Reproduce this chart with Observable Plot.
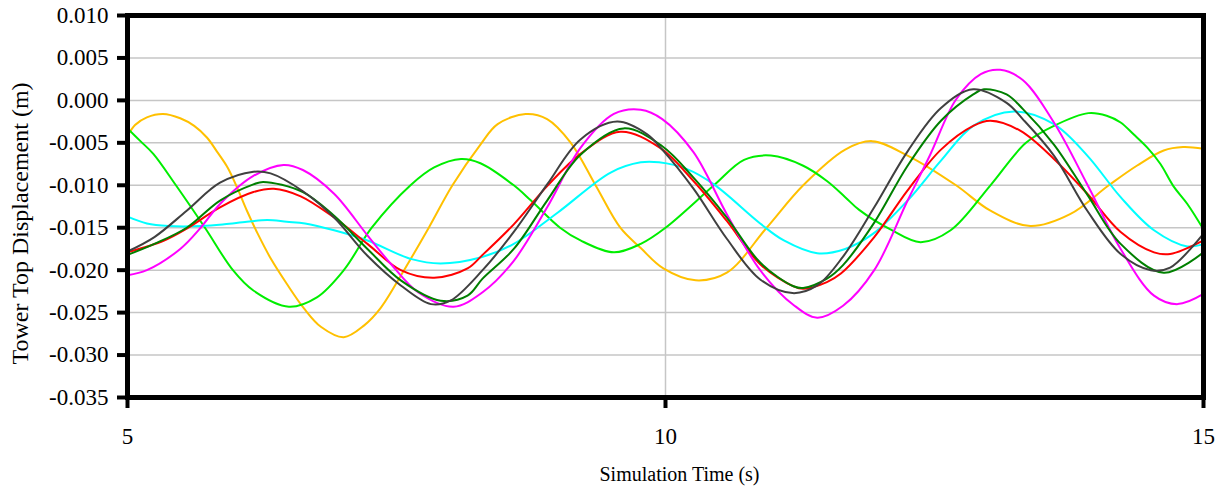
<!DOCTYPE html>
<html>
<head>
<meta charset="utf-8">
<script src="https://cdn.jsdelivr.net/npm/d3@7"></script>
<script src="https://cdn.jsdelivr.net/npm/@observablehq/plot@0.6"></script>
<style>
  html, body { margin: 0; padding: 0; background: #ffffff; }
  #chart { width: 1229px; height: 489px; }
</style>
</head>
<body>
<div id="chart"></div>
<script>
// ---- Data (time in s, displacement in m) ----
const xTicks = [5, 10, 15];
const yTicks = [-0.035, -0.030, -0.025, -0.020, -0.015, -0.010, -0.005, 0.000, 0.005, 0.010];

const orangeSeries = [[5.0,-0.0042],[5.07,-0.0029],[5.18,-0.0020],[5.33,-0.0016],[5.49,-0.0021],[5.62,-0.0030],[5.74,-0.0044],[5.83,-0.0060],[5.93,-0.0079],[6.02,-0.0103],[6.11,-0.0130],[6.21,-0.0157],[6.33,-0.0186],[6.48,-0.0216],[6.64,-0.0245],[6.80,-0.0267],[7.01,-0.0279],[7.20,-0.0265],[7.35,-0.0245],[7.57,-0.0200],[7.80,-0.0150],[8.02,-0.0100],[8.28,-0.0052],[8.44,-0.0028],[8.70,-0.0016],[8.90,-0.0022],[9.12,-0.0050],[9.35,-0.0100],[9.58,-0.0150],[9.77,-0.0174],[9.98,-0.0198],[10.28,-0.0212],[10.57,-0.0203],[10.94,-0.0150],[11.28,-0.0100],[11.67,-0.0058],[11.92,-0.0048],[12.25,-0.0065],[12.70,-0.0100],[13.02,-0.0130],[13.39,-0.0148],[13.76,-0.0134],[14.12,-0.0100],[14.38,-0.0077],[14.63,-0.0059],[14.81,-0.0055],[15.0,-0.0057]];

const brightGreenSeries = [[5.0,-0.0033],[5.12,-0.0048],[5.24,-0.0063],[5.45,-0.0100],[5.72,-0.0150],[5.98,-0.0200],[6.17,-0.0224],[6.50,-0.0243],[6.76,-0.0232],[7.01,-0.0200],[7.27,-0.0150],[7.63,-0.0100],[7.85,-0.0079],[8.10,-0.0069],[8.28,-0.0074],[8.59,-0.0100],[8.75,-0.0118],[9.02,-0.0150],[9.21,-0.0165],[9.52,-0.0179],[9.77,-0.0169],[10.0,-0.0150],[10.45,-0.0100],[10.73,-0.0070],[10.98,-0.0065],[11.28,-0.0077],[11.50,-0.0095],[11.67,-0.0114],[11.80,-0.0129],[12.09,-0.0152],[12.37,-0.0167],[12.65,-0.0153],[13.02,-0.0100],[13.35,-0.0050],[13.61,-0.0030],[13.93,-0.0015],[14.10,-0.0018],[14.23,-0.0026],[14.35,-0.0040],[14.48,-0.0056],[14.60,-0.0075],[14.72,-0.0101],[14.85,-0.0122],[15.0,-0.0152]];

const cyanSeries = [[5.0,-0.0137],[5.18,-0.0145],[5.38,-0.0148],[5.69,-0.0148],[5.90,-0.0146],[6.11,-0.0143],[6.30,-0.0141],[6.48,-0.0143],[6.65,-0.0145],[6.92,-0.0153],[7.23,-0.0165],[7.64,-0.0187],[7.91,-0.0192],[8.28,-0.0185],[8.59,-0.0169],[9.0,-0.0132],[9.49,-0.0085],[9.77,-0.0073],[9.94,-0.0073],[10.2,-0.0081],[10.45,-0.0099],[10.88,-0.0145],[11.10,-0.0165],[11.41,-0.0180],[11.67,-0.0175],[11.93,-0.0157],[12.25,-0.0118],[12.56,-0.0071],[12.86,-0.0030],[13.24,-0.0013],[13.61,-0.0028],[13.92,-0.0065],[14.23,-0.0114],[14.54,-0.0153],[14.85,-0.0172],[15.0,-0.0169]];

const redSeries = [[5.0,-0.0179],[5.34,-0.0165],[5.55,-0.0151],[5.86,-0.0126],[6.17,-0.0108],[6.36,-0.0104],[6.61,-0.0113],[6.92,-0.0138],[7.23,-0.0169],[7.54,-0.0200],[7.85,-0.0209],[8.16,-0.0198],[8.30,-0.0182],[8.59,-0.0146],[8.90,-0.0101],[9.21,-0.0063],[9.58,-0.0037],[9.95,-0.0056],[10.26,-0.0095],[10.57,-0.0142],[10.88,-0.0193],[11.19,-0.0219],[11.28,-0.0222],[11.50,-0.0214],[11.63,-0.0204],[11.94,-0.0161],[12.25,-0.0106],[12.56,-0.0058],[12.86,-0.0030],[13.02,-0.0024],[13.30,-0.0036],[13.61,-0.0069],[13.92,-0.0110],[14.23,-0.0155],[14.54,-0.0179],[14.69,-0.0181],[15.0,-0.0165]];

const magentaSeries = [[5.0,-0.0206],[5.18,-0.0200],[5.49,-0.0175],[5.68,-0.0150],[5.86,-0.0122],[6.17,-0.0089],[6.45,-0.0076],[6.63,-0.0082],[6.92,-0.0110],[7.23,-0.0159],[7.45,-0.0193],[7.70,-0.0226],[8.03,-0.0243],[8.30,-0.0226],[8.59,-0.0189],[8.90,-0.0126],[9.21,-0.0056],[9.52,-0.0016],[9.77,-0.0011],[9.97,-0.0022],[10.26,-0.0061],[10.57,-0.0134],[10.88,-0.0200],[11.19,-0.0241],[11.41,-0.0256],[11.65,-0.0242],[11.94,-0.0200],[12.25,-0.0118],[12.46,-0.0064],[12.70,0.0001],[12.93,0.0031],[13.11,0.0036],[13.32,0.0024],[13.61,-0.0026],[13.92,-0.0099],[14.23,-0.0175],[14.54,-0.0230],[14.76,-0.0240],[15.0,-0.0228]];

const darkGreenSeries = [[5.0,-0.0182],[5.25,-0.0169],[5.55,-0.0150],[5.86,-0.0118],[6.17,-0.0099],[6.26,-0.0096],[6.63,-0.0108],[6.92,-0.0136],[7.23,-0.0175],[7.54,-0.0212],[7.91,-0.0236],[8.16,-0.0230],[8.30,-0.0210],[8.59,-0.0175],[8.90,-0.0118],[9.21,-0.0064],[9.61,-0.0033],[9.97,-0.0054],[10.26,-0.0091],[10.57,-0.0138],[10.88,-0.0191],[11.19,-0.0219],[11.28,-0.0221],[11.50,-0.0210],[11.65,-0.0194],[11.94,-0.0144],[12.25,-0.0077],[12.56,-0.0024],[12.86,0.0007],[12.96,0.0013],[13.17,0.0007],[13.32,-0.0010],[13.61,-0.0052],[13.92,-0.0111],[14.23,-0.0169],[14.63,-0.0203],[15.0,-0.0179]];

const darkGraySeries = [[5.0,-0.0178],[5.25,-0.0161],[5.55,-0.0130],[5.86,-0.0097],[6.17,-0.0084],[6.33,-0.0086],[6.63,-0.0107],[6.92,-0.0138],[7.23,-0.0183],[7.54,-0.0218],[7.82,-0.0240],[8.00,-0.0236],[8.30,-0.0200],[8.59,-0.0155],[8.90,-0.0099],[9.21,-0.0046],[9.55,-0.0025],[9.83,-0.0040],[9.97,-0.0058],[10.26,-0.0104],[10.57,-0.0163],[10.88,-0.0211],[11.18,-0.0227],[11.41,-0.0218],[11.65,-0.0184],[11.94,-0.0126],[12.25,-0.0060],[12.56,-0.0009],[12.86,0.0013],[13.17,-0.0003],[13.32,-0.0022],[13.61,-0.0065],[13.92,-0.0130],[14.23,-0.0181],[14.51,-0.0200],[14.69,-0.0197],[15.0,-0.0157]];

const seriesNames = ["orange", "brightGreen", "cyan", "red", "magenta", "darkGreen", "darkGray"];
const seriesData = [orangeSeries, brightGreenSeries, cyanSeries, redSeries, magentaSeries, darkGreenSeries, darkGraySeries];
const seriesColors = ["#FFC000", "#00EE00", "#00FFFF", "#FF0000", "#FF00FF", "#008000", "#404040"];

// ---- Build table ----
const rows = seriesNames.flatMap((name, i) => seriesData[i].map(([t, v]) => ({series: name, t, v})));

const fmtY = d => (d < -1e-12 ? "-" : "") + Math.abs(d).toFixed(3);
const serif = "'Liberation Serif', 'Times New Roman', serif";

const chart = Plot.plot({
  width: 1229,
  height: 489,
  marginLeft: 127,
  marginRight: 26,
  marginTop: 15,
  marginBottom: 92,
  style: {fontFamily: serif, fontSize: "23px", color: "#000", background: "#fff", overflow: "visible"},
  x: {domain: [5, 15], label: null},
  y: {domain: [-0.035, 0.010], label: null},
  color: {domain: seriesNames, range: seriesColors},
  marks: [
    Plot.gridY(yTicks, {stroke: "#c6c6c6", strokeOpacity: 1, strokeWidth: 1.5}),
    Plot.gridX([10], {stroke: "#c6c6c6", strokeOpacity: 1, strokeWidth: 1.5}),
    Plot.line(rows, {x: "t", y: "v", z: "series", stroke: "series", strokeWidth: 2, curve: "catmull-rom"}),
    Plot.frame({stroke: "#000", strokeWidth: 5}),
    Plot.axisY(yTicks, {tickSize: 10, tickPadding: 9, strokeWidth: 4, fontSize: 23, fontFamily: serif, tickFormat: fmtY, label: null}),
    Plot.axisX(xTicks, {tickSize: 11, tickPadding: 19, strokeWidth: 4, fontSize: 23, fontFamily: serif, tickFormat: d => String(d), label: null}),
    Plot.text(["Tower Top Displacement (m)"], {frameAnchor: "left", textAnchor: "middle", lineAnchor: "middle", rotate: -90, dx: -107, dy: 17, fontSize: 24, fontFamily: serif, fill: "#000"}),
    Plot.text(["Simulation Time (s)"], {frameAnchor: "bottom", textAnchor: "middle", lineAnchor: "middle", dx: 14, dy: 77, fontSize: 20, fontFamily: serif, fill: "#000"})
  ]
});

document.getElementById("chart").appendChild(chart);
</script>
</body>
</html>
